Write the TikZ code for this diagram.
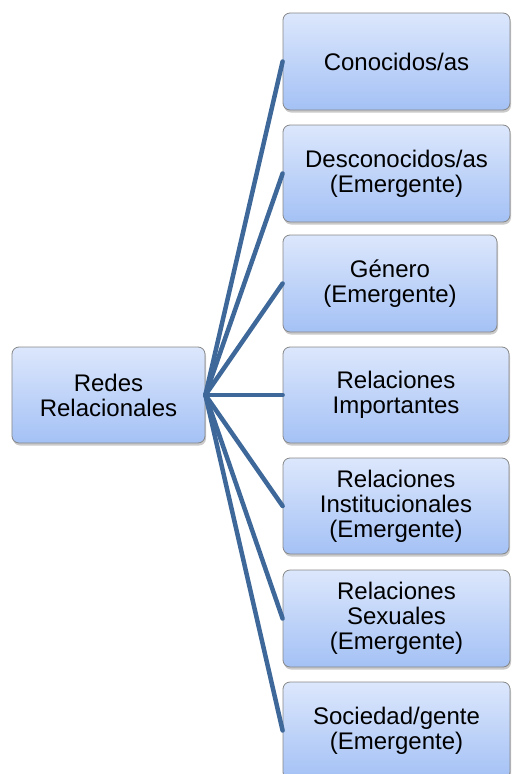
\documentclass[tikz,border=0pt]{standalone}
\usepackage{fontspec}
\setmainfont{Liberation Sans}
\usetikzlibrary{shadows}
\definecolor{linkblue}{RGB}{61,104,153}
\definecolor{boxtop}{RGB}{220,231,252}
\definecolor{boxbot}{RGB}{164,193,245}
\definecolor{boxedge}{RGB}{135,135,135}
\tikzset{
  box/.style={draw=boxedge, line width=0.8bp, rounded corners=7bp,
    top color=boxtop, bottom color=boxbot, align=center, inner sep=0pt,
    font=\fontsize{24bp}{25bp}\selectfont, text=black,
    drop shadow={shadow xshift=1bp, shadow yshift=-2.5bp, opacity=0.35, fill=black!60}},
  link/.style={draw=linkblue, line width=4.5bp, line cap=round}
}
\begin{document}
\begin{tikzpicture}[x=1bp,y=-1bp]
\useasboundingbox (0,0) rectangle (512,774);
\node[box, minimum width=193bp, minimum height=96bp] (L) at (108.5,395) {Redes\\Relacionales};
\node[box, minimum width=227bp, minimum height=97bp] (R1) at (396.5,61.5) {Conocidos/as};
\node[box, minimum width=227bp, minimum height=97bp] (R2) at (396.5,173.5) {Desconocidos/as\\(Emergente)};
\node[box, minimum width=214bp, minimum height=97bp] (R3) at (390,283.5) {Género\\(Emergente)};
\node[box, minimum width=226bp, minimum height=96bp] (R4) at (396,395) {Relaciones\\Importantes};
\node[box, minimum width=226bp, minimum height=96bp] (R5) at (396,506) {Relaciones\\Institucionales\\(Emergente)};
\node[box, minimum width=227bp, minimum height=97bp] (R6) at (396.5,618.5) {Relaciones\\Sexuales\\(Emergente)};
\node[box, minimum width=227bp, minimum height=97bp] (R7) at (396.5,730.5) {Sociedad/gente\\(Emergente)};
\foreach \r in {R1,R2,R3,R4,R5,R6,R7}{
  \draw[link] (L.east) -- (\r.west);
}
\end{tikzpicture}
\end{document}
